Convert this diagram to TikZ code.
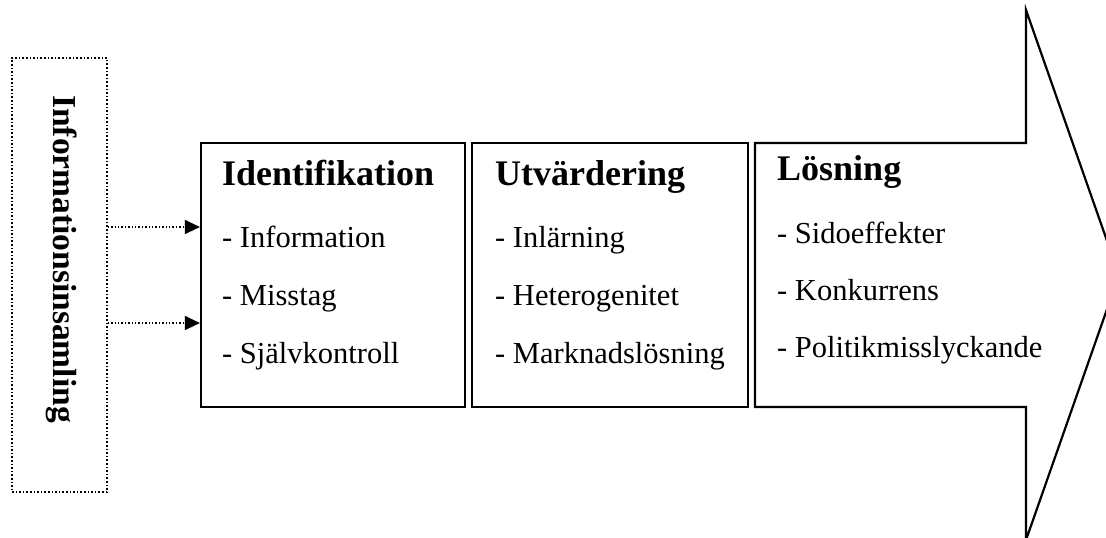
\documentclass[tikz,border=0pt]{standalone}
\usepackage{fontspec}
\setmainfont{Liberation Serif}
\usetikzlibrary{arrows.meta}
\tikzstyle{stage}    = [rectangle, draw=black, line width=2.2pt, minimum height=264pt,
                        inner sep=0pt]
\tikzstyle{infobox}  = [rectangle, draw=black, dotted, line width=1.6pt,
                        minimum width=95pt, minimum height=434pt, inner sep=0pt]
\tikzstyle{infotext} = [anchor=base, rotate=-90, inner sep=0pt,
                        font=\fontsize{33.5}{36}\selectfont\bfseries]
\tikzstyle{title}    = [anchor=base west, inner sep=0pt,
                        font=\fontsize{36}{40}\selectfont\bfseries]
\tikzstyle{item}     = [anchor=base west, inner sep=0pt,
                        font=\fontsize{30.5}{34}\selectfont]
\tikzstyle{feed}     = [dotted, line width=1.4pt, -{Triangle[length=15pt,width=14pt]}]
\tikzstyle{bigarrow} = [draw=black, line width=2.2pt, fill=white, line join=miter]

\begin{document}
\begin{tikzpicture}[x=1pt, y=-1pt]
\clip (0,0) rectangle (1106,538);
\fill[white] (0,0) rectangle (1106,538);

% information gathering
\node (info)    [infobox]  at (59.5,275) {};
\node (infotxt) [infotext] at (53,259)   {Informationsinsamling};

% stage boxes
\node (ident) [stage, minimum width=264pt] at (333,275) {};
\node (utv)   [stage, minimum width=276pt] at (610,275) {};
\coordinate (lt) at (755,143);
\coordinate (lb) at (755,407);
\draw [bigarrow] (lt) -- (1026,143) -- (1026,10) -- (1119,275)
                 -- (1026,540) -- (1026,407) -- (lb) -- cycle;

% texts
\node (idt) [title] at (222,185) {Identifikation};
\node (id1) [item]  at (222,247) {- Information};
\node (id2) [item]  at (222,305) {- Misstag};
\node (id3) [item]  at (222,363) {- Självkontroll};

\node (utt) [title] at (495,185) {Utvärdering};
\node (ut1) [item]  at (495,247) {- Inlärning};
\node (ut2) [item]  at (495,305) {- Heterogenitet};
\node (ut3) [item]  at (495,363) {- Marknadslösning};

\node (lst) [title] at (777,180) {Lösning};
\node (ls1) [item]  at (777,243) {- Sidoeffekter};
\node (ls2) [item]  at (777,300) {- Konkurrens};
\node (ls3) [item]  at (777,357) {- Politikmisslyckande};

% feeds
\coordinate (in1) at (ident.west |- 0,227);
\coordinate (in2) at (ident.west |- 0,323);
\draw [feed] (info.east |- in1) -- (in1);
\draw [feed] (info.east |- in2) -- (in2);
\end{tikzpicture}
\end{document}
